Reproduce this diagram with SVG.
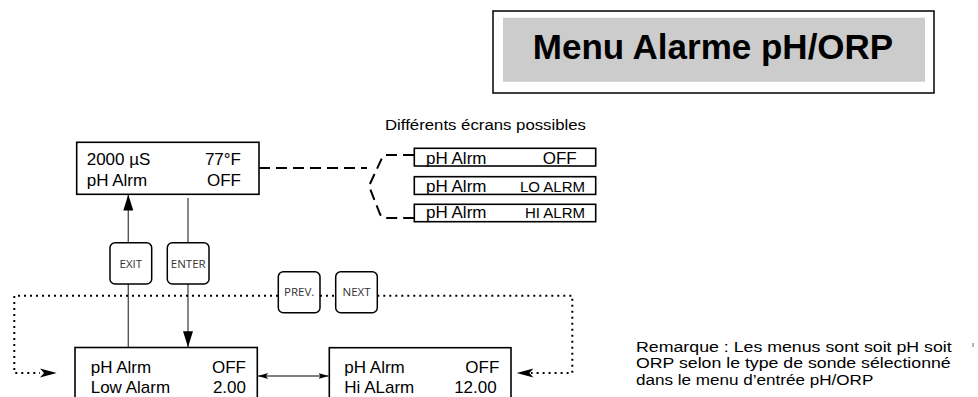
<svg xmlns="http://www.w3.org/2000/svg" width="978" height="397" viewBox="0 0 978 397">
<defs>
<style>
.t{font-family:"Liberation Sans",Arial,sans-serif;fill:#000}
.lcd{font-size:17px}
.box{fill:#fff;stroke:#000;stroke-width:1.6}
.btn{fill:#fff;stroke:#000;stroke-width:1.5}
.bt{font-family:"Open Sans","Noto Sans",sans-serif;font-size:11.5px;fill:#333;text-anchor:middle}
.end{text-anchor:end}
.gline{stroke:#555;stroke-width:1.4;fill:none}
.dash{stroke:#000;stroke-width:2;fill:none;stroke-dasharray:11 6}
.dot{stroke:#000;stroke-width:2;fill:none;stroke-dasharray:2 4}
</style>
<marker id="ah" viewBox="0 0 16 10" refX="16" refY="5" markerWidth="16" markerHeight="10" markerUnits="userSpaceOnUse" orient="auto">
<path d="M0,0 L16,5 L0,10 z" fill="#000"/>
</marker>
<marker id="sm" viewBox="0 0 10 6" refX="10" refY="3" markerWidth="10" markerHeight="6" markerUnits="userSpaceOnUse" orient="auto-start-reverse">
<path d="M0,0 L10,3 L0,6 L2,3 z" fill="#000"/>
</marker>
</defs>
<rect width="978" height="397" fill="#fff"/>

<g id="title">
<rect x="493" y="11" width="441" height="82" fill="#fff" stroke="#000" stroke-width="1.5"/>
<rect x="503" y="17.7" width="422" height="64" fill="#cccccc"/>
<text class="t" x="713" y="58.5" font-size="35" font-weight="bold" text-anchor="middle">Menu Alarme pH/ORP</text>
</g>

<g id="connectors">
<line class="gline" x1="128.3" y1="242.7" x2="128.3" y2="194.5" marker-end="url(#ah)"/>
<line class="gline" x1="128.3" y1="347.3" x2="128.3" y2="284"/>
<line class="gline" x1="188" y1="198" x2="188" y2="242.7"/>
<line class="gline" x1="188" y1="284" x2="188" y2="347.3" marker-end="url(#ah)"/>
<path class="dash" d="M259,168 H367"/>
<path class="dash" d="M414,155 H386 Q383,155 382,158 L369,186 L380,214 Q382,218 386,218 H414"/>
<path class="dot" d="M278,295.7 H14.3 V373 H40"/>
<path d="M56.7,373 L40,368.5 L44,373 L40,377.5 z" fill="#000"/>
<path class="dot" d="M320,295.7 H336"/>
<path class="dot" d="M377.3,295.7 H572.3 V373 H531"/>
<path d="M516.7,373 L533.4,368.5 L529.4,373 L533.4,377.5 z" fill="#000"/>
<line x1="258" y1="376" x2="328.5" y2="376" stroke="#000" stroke-width="1" marker-start="url(#sm)" marker-end="url(#sm)"/>
</g>

<g id="main-display">
<rect class="box" x="76.7" y="142.3" width="182.3" height="52"/>
<text class="t lcd" x="86.7" y="165">2000 µS</text>
<text class="t lcd end" x="241" y="165">77°F</text>
<text class="t lcd" x="86.7" y="186">pH Alrm</text>
<text class="t lcd end" x="241" y="186">OFF</text>
</g>

<g id="screens-label">
<text class="t" x="385" y="130" font-size="15.5" textLength="201" lengthAdjust="spacingAndGlyphs">Différents écrans possibles</text>
</g>

<g id="screen-off">
<rect class="box" x="414.3" y="148.3" width="181.4" height="17.7"/>
<text class="t lcd" x="426" y="164.3">pH Alrm</text>
<text class="t lcd end" x="576.7" y="164.3">OFF</text>
</g>
<g id="screen-lo">
<rect class="box" x="414.3" y="176.7" width="181.4" height="17.7"/>
<text class="t lcd" x="426" y="191.7">pH Alrm</text>
<text class="t end" x="585" y="191.7" font-size="15">LO ALRM</text>
</g>
<g id="screen-hi">
<rect class="box" x="414.3" y="204.3" width="181.4" height="17.4"/>
<text class="t lcd" x="426" y="218.3">pH Alrm</text>
<text class="t end" x="585" y="218.3" font-size="15">HI ALRM</text>
</g>

<g id="btn-exit">
<rect class="btn" x="110" y="242.7" width="41.7" height="41.3" rx="5"/>
<text class="bt" x="130.8" y="267.5">EXIT</text>
</g>
<g id="btn-enter">
<rect class="btn" x="167.3" y="242.7" width="41.7" height="41.3" rx="5"/>
<text class="bt" x="188.2" y="267.5">ENTER</text>
</g>
<g id="btn-prev">
<rect class="btn" x="278.3" y="271.7" width="41.7" height="41" rx="5"/>
<text class="bt" x="299.2" y="296.4">PREV.</text>
</g>
<g id="btn-next">
<rect class="btn" x="335.7" y="271.7" width="41.6" height="41" rx="5"/>
<text class="bt" x="356.5" y="296.4">NEXT</text>
</g>

<g id="low-alarm">
<rect class="box" x="75" y="347.5" width="182.3" height="60"/>
<text class="t lcd" x="90.7" y="372.7">pH Alrm</text>
<text class="t lcd end" x="246" y="372.7">OFF</text>
<text class="t lcd" x="90.7" y="392.7">Low Alarm</text>
<text class="t lcd end" x="246" y="392.7">2.00</text>
</g>

<g id="hi-alarm">
<rect class="box" x="329.3" y="347.7" width="181.7" height="60"/>
<text class="t lcd" x="344.3" y="372.7">pH Alrm</text>
<text class="t lcd end" x="499.3" y="372.7">OFF</text>
<text class="t lcd" x="344.3" y="392.7">Hi ALarm</text>
<text class="t lcd end" x="496.7" y="392.7">12.00</text>
</g>

<g id="note">
<text class="t" x="636" y="351.7" font-size="15.5" textLength="315.7" lengthAdjust="spacingAndGlyphs">Remarque : Les menus sont soit pH soit</text>
<text class="t" x="636" y="368.3" font-size="15.5" textLength="314.7" lengthAdjust="spacingAndGlyphs">ORP selon le type de sonde sélectionné</text>
<text class="t" x="636" y="385" font-size="15.5" textLength="237.3" lengthAdjust="spacingAndGlyphs">dans le menu d’entrée pH/ORP</text>
<rect x="972.4" y="343" width="1.3" height="4" fill="#888"/>
</g>
</svg>
